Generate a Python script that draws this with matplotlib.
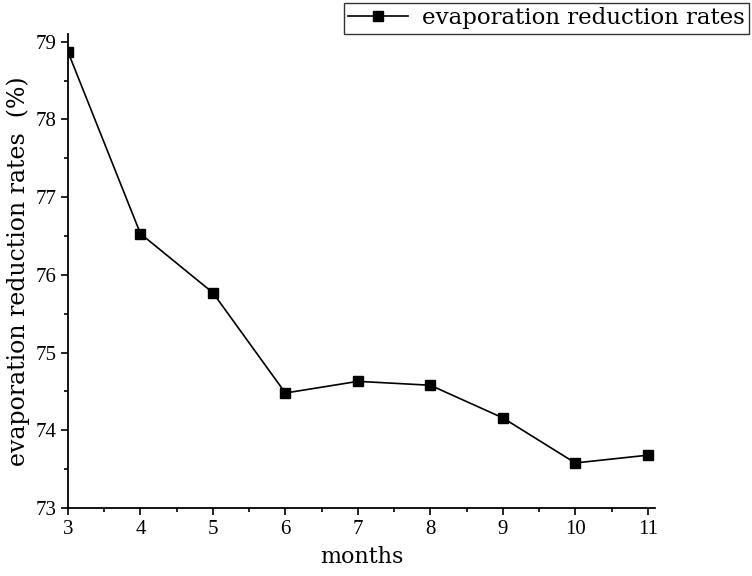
import matplotlib
matplotlib.use("Agg")
import matplotlib.pyplot as plt
from matplotlib.ticker import MultipleLocator

# data
months = [3, 4, 5, 6, 7, 8, 9, 10, 11]
reduction = [78.87, 76.53, 75.77, 74.48, 74.63, 74.58, 74.16, 73.58, 73.68]

label_font = "DejaVu Serif"
tick_font = "Liberation Serif"

fig = plt.figure(figsize=(7.52, 5.76), dpi=100)
ax = fig.add_axes([0.0904, 0.118, 0.7806, 0.823])

ax.plot(months, reduction, color="black", linewidth=1.2, marker="s",
        markersize=7.5, label="evaporation reduction rates")

ax.set_xlim(3, 11.1)
ax.set_ylim(73, 79.1)
ax.xaxis.set_major_locator(MultipleLocator(1))
ax.xaxis.set_minor_locator(MultipleLocator(0.5))
ax.yaxis.set_major_locator(MultipleLocator(1))
ax.yaxis.set_minor_locator(MultipleLocator(0.5))

for s in ["top", "right"]:
    ax.spines[s].set_visible(False)
for s in ["left", "bottom"]:
    ax.spines[s].set_linewidth(1.3)

ax.tick_params(which="major", direction="out", length=5, width=1.2, labelsize=15)
ax.tick_params(which="minor", direction="out", length=3, width=1.2)
for lab in ax.get_xticklabels() + ax.get_yticklabels():
    lab.set_fontfamily(tick_font)

ax.set_xlabel("months", fontsize=16, family=label_font, labelpad=5)
ax.set_ylabel("evaporation reduction rates  (%)", fontsize=17,
              family=label_font, labelpad=4)

leg = fig.legend(loc="upper right", bbox_to_anchor=(0.996, 0.995),
                 prop={"family": label_font, "size": 16.5},
                 frameon=True, fancybox=False, handlelength=2.6,
                 borderpad=0.2, handletextpad=0.6, borderaxespad=0)
leg.get_frame().set_edgecolor("black")
leg.get_frame().set_linewidth(1.0)

fig.savefig("out.png", dpi=100)
